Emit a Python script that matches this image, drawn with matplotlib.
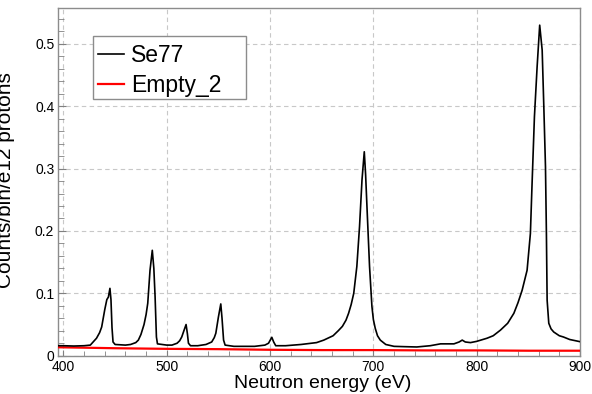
import matplotlib
matplotlib.use("Agg")
import matplotlib.pyplot as plt
from matplotlib.ticker import MultipleLocator, FuncFormatter
from matplotlib.patches import Rectangle

plt.rcParams['font.family'] = ['Liberation Sans', 'DejaVu Sans']

# Se77 spectrum (energy in eV, counts/bin/e12 protons)
se77_energy = [395.2, 400, 410, 420, 426, 432, 435, 437, 440, 442, 443.5, 445, 446, 447, 448,
               450, 460, 465, 470, 472.5, 475, 478, 480, 481.6, 483.8, 486, 487.5, 488.7, 490,
               491, 500, 505, 510, 512.5, 514.5, 517, 518.7, 520, 521, 523, 530, 538, 543.5,
               546, 547.5, 550, 552.3, 553.5, 555, 556.5, 565, 575, 585, 595, 598.5, 601.7,
               603.5, 605.5, 615, 630, 645, 652, 661, 666, 670, 673.5, 676, 678.5, 681, 684,
               686.6, 689, 691.2, 692.5, 693.8, 696.3, 698.6, 700, 701.8, 704, 706.7, 712, 720,
               730, 742, 755, 765, 778, 783, 786, 789, 794, 800, 810, 816, 823, 830, 836, 840,
               844, 848.8, 852, 853.5, 855.9, 858.5, 861, 863.4, 865, 866.6, 867.5, 868.2,
               869.8, 872, 874.6, 880, 884, 890, 900]
se77_counts = [0.016, 0.016, 0.0155, 0.016, 0.017, 0.028, 0.037, 0.046, 0.074, 0.090, 0.094,
               0.108, 0.090, 0.045, 0.022, 0.018, 0.017, 0.018, 0.021, 0.025, 0.034, 0.050,
               0.066, 0.084, 0.137, 0.169, 0.140, 0.095, 0.030, 0.019, 0.017, 0.017, 0.020,
               0.024, 0.030, 0.042, 0.050, 0.035, 0.020, 0.016, 0.016, 0.018, 0.022, 0.029,
               0.036, 0.062, 0.083, 0.060, 0.025, 0.017, 0.015, 0.015, 0.015, 0.017, 0.020,
               0.0295, 0.022, 0.016, 0.016, 0.018, 0.021, 0.025, 0.032, 0.040, 0.047, 0.057,
               0.068, 0.082, 0.100, 0.143, 0.207, 0.282, 0.327, 0.290, 0.239, 0.143, 0.079,
               0.058, 0.044, 0.032, 0.025, 0.018, 0.015, 0.0145, 0.014, 0.016, 0.019, 0.019,
               0.022, 0.025, 0.022, 0.021, 0.023, 0.028, 0.032, 0.041, 0.052, 0.068, 0.085,
               0.105, 0.137, 0.196, 0.270, 0.383, 0.463, 0.530, 0.490, 0.399, 0.303, 0.196,
               0.089, 0.052, 0.043, 0.038, 0.032, 0.030, 0.026, 0.0225]

# Empty_2 spectrum
empty_energy = [395.2, 450, 500, 550, 600, 650, 700, 750, 800, 850, 900]
empty_counts = [0.0135, 0.012, 0.011, 0.0105, 0.0095, 0.009, 0.009, 0.0085, 0.0085, 0.008, 0.008]

W, H = 592, 394
fig = plt.figure(figsize=(W / 100, H / 100), dpi=100)
ax = fig.add_axes([0.0988, 0.0972, 0.9797 - 0.0988, 0.9789 - 0.0972])

ax.plot(empty_energy, empty_counts, color='#ff0000', lw=1.6, label='Empty_2', zorder=3)
ax.plot(se77_energy, se77_counts, color='black', lw=1.2, label='Se77', zorder=4)

ax.set_xlim(395.2, 900)
ax.set_ylim(0, 0.557)

ax.xaxis.set_major_locator(MultipleLocator(100))
ax.xaxis.set_minor_locator(MultipleLocator(20))
ax.yaxis.set_major_locator(MultipleLocator(0.1))
ax.yaxis.set_minor_locator(MultipleLocator(0.02))
ax.yaxis.set_major_formatter(FuncFormatter(lambda v, p: '0' if abs(v) < 1e-9 else '%.1f' % v))

ax.tick_params(which='both', direction='in', top=False, right=False, labelsize=10,
               color='#808080', pad=3)
ax.tick_params(axis='y', which='major', length=6)
ax.tick_params(axis='y', which='minor', length=4)
ax.tick_params(axis='x', which='major', length=4)
ax.tick_params(axis='x', which='minor', length=3.5)

for s in ax.spines.values():
    s.set_color('#8c8c8c')
    s.set_linewidth(1)

ax.grid(True, which='major', color='#c8c8c8', ls=(0, (4, 3)), lw=0.8)
ax.set_axisbelow(True)

# axis titles, ROOT style
fig.text(323 / W, 1 - 388 / H, 'Neutron energy (eV)', ha='center', va='baseline', fontsize=14)
fig.text(15 / W, 1 - 180 / H, 'Counts/bin/e12 protons', rotation=90,
         ha='right', va='center', fontsize=15)

# legend box (drawn separately so it can be wider than the text)
box = Rectangle((92.7 / W, 1 - 99 / H), (245.7 - 92.7) / W, 63 / H,
                transform=fig.transFigure, facecolor='white', edgecolor='#8c8c8c',
                lw=1, zorder=5)
ax.add_patch(box)
box.set_clip_on(False)

handles, labels = ax.get_legend_handles_labels()
leg = ax.legend(handles[::-1], labels[::-1], loc='upper left',
                bbox_to_anchor=(98 / W, 1 - 44 / H), bbox_transform=fig.transFigure,
                fontsize=16.5, frameon=False, handlelength=1.13, handletextpad=0.3,
                borderpad=0, labelspacing=0.29, borderaxespad=0)
leg.set_zorder(6)

fig.savefig('out.png', dpi=100)
